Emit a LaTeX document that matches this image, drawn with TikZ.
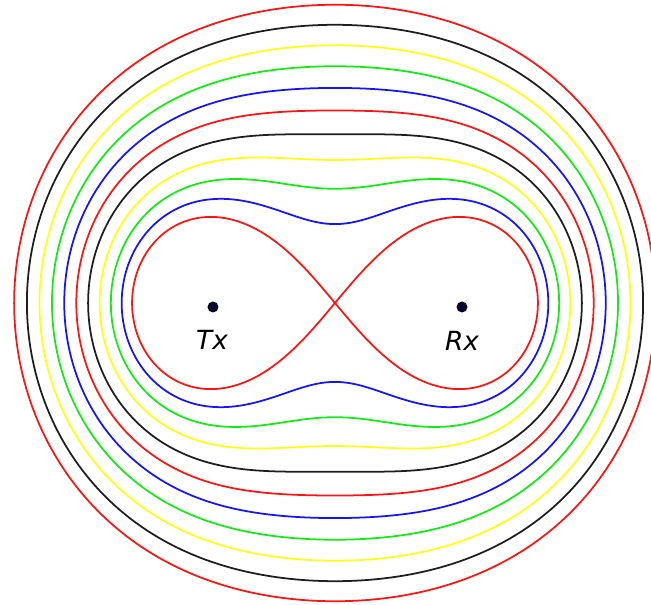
\documentclass[tikz,border=0pt]{standalone}
\usepackage{fontspec}
\setmainfont{DejaVu Sans}
\usetikzlibrary{positioning}
\definecolor{OvRed}{RGB}{255,20,20}
\definecolor{OvBlue}{RGB}{20,20,255}
\definecolor{OvGreen}{RGB}{20,235,20}
\definecolor{OvYellow}{RGB}{255,255,20}
\definecolor{OvBlack}{RGB}{30,30,30}
\definecolor{DotNavy}{RGB}{5,10,40}
\tikzset{declare function={cr(\t,\b)=sqrt(cos(2*\t)+sqrt(\b^4-sin(2*\t)^2));}}

\begin{document}
\begin{tikzpicture}[x=2.87cm, y=3.444cm,
            oval/.style={line width=1pt},
            dot/.style={circle, fill=DotNavy, inner sep=0pt, minimum size=0.22cm},
            lbl/.style={font=\itshape\fontsize{15}{15}\selectfont}
          ]
          \useasboundingbox (-6.70cm,-6.04cm) rectangle (6.32cm,6.06cm);
          % lemniscate (b = a)
          \draw[oval, OvRed] plot[domain=0:360, samples=361, variable=\t]
                ({sqrt(2)*cos(\t)/(1+sin(\t)^2)}, {sqrt(2)*sin(\t)*cos(\t)/(1+sin(\t)^2)});
          % outer ovals, b = 1.1 ... 2.0
          \foreach \b/\c in {1.1/OvBlue, 1.2/OvGreen, 1.3/OvYellow, 1.4/OvBlack, 1.5/OvRed,
                             1.6/OvBlue, 1.7/OvGreen, 1.8/OvYellow, 1.9/OvBlack, 2.0/OvRed}
            \draw[oval, \c] plot[domain=0:359, samples=360, variable=\t]
                  ({cr(\t,\b)*cos(\t)}, {cr(\t,\b)*sin(\t)}) -- cycle;

          % transmitter and receiver
          \node[dot] (tx) at (-2.44cm,-0.08cm) {};
          \node[dot] (rx) at (2.54cm,-0.08cm) {};
          \node[lbl] (txl) at (-2.46cm,-0.74cm) {Tx};
          \node[lbl] (rxl) at (2.54cm,-0.76cm) {Rx};
        \end{tikzpicture}
\end{document}
